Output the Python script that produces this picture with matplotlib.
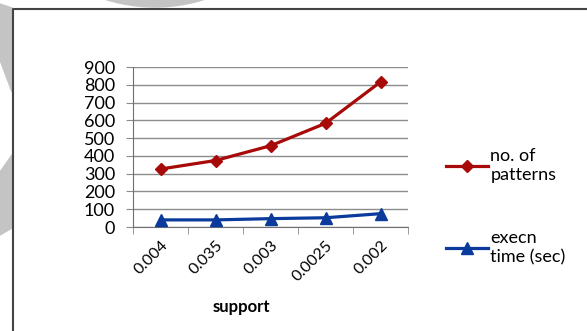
#!/usr/bin/env python3
"""Line chart: number of patterns and execution time against support."""

import matplotlib
matplotlib.use("Agg")
import matplotlib.pyplot as plt
from matplotlib.patches import Polygon, Ellipse

support = ["0.004", "0.035", "0.003", "0.0025", "0.002"]
patterns = [326, 374, 457, 583, 816]
exec_time = [40, 40, 47, 52, 75]

RED = "#A80A0A"
BLUE = "#0A3A9C"
GRID = "#8C8C8C"

plt.rcParams["font.family"] = ["Lato", "DejaVu Sans"]

fig = plt.figure(figsize=(5.87, 3.31), dpi=100)

# page decorations around the chart frame
W, H = 587, 331
fig.patches.append(Ellipse((155 / W, 1 - (7 - 165) / H), 330 / W, 330 / H,
                           transform=fig.transFigure, color="#C4C4C4",
                           zorder=0))
fig.patches.append(Polygon([(0, 1 - 4 / H), (12 / W, 1 - 8 / H),
                            (12 / W, 1 - 92 / H), (0, 1 - 60 / H)],
                           closed=True, transform=fig.transFigure,
                           color="#C4C4C4", zorder=0))
fig.patches.append(Polygon([(12 / W, 1 - 155 / H), (12 / W, 1 - 228 / H),
                            (0, 1 - 235 / H), (0, 1 - 172 / H)],
                           closed=True, transform=fig.transFigure,
                           color="#C4C4C4", zorder=0))
# chart frame
fig.add_artist(plt.Line2D([12.5 / W, 12.5 / W, 1], [0, 1 - 8.5 / H, 1 - 8.5 / H],
                          transform=fig.transFigure, color="#444444", lw=1.5))

ax = fig.add_axes([133 / W, 1 - 227 / H, 275 / W, 160 / H])
x = range(len(support))
ax.plot(x, patterns, color=RED, lw=2.3, marker="D", ms=6.5,
        label="no. of\npatterns", zorder=3)
ax.plot(x, exec_time, color=BLUE, lw=2.3, marker="^", ms=8,
        label="execn\ntime (sec)", zorder=3)

ax.set_xlim(-0.5, len(support) - 0.5)
ax.set_ylim(0, 900)
ax.set_yticks(range(0, 901, 100))
ax.tick_params(axis="y", labelsize=13, length=5, color=GRID, pad=8)
ax.yaxis.grid(True, color=GRID, lw=1)
ax.set_axisbelow(True)

ax.set_xticks(list(x))
ax.set_xticklabels(support, rotation=45, ha="right", rotation_mode="anchor",
                   fontsize=11.5)
ax.set_xticks([i - 0.5 for i in range(len(support) + 1)], minor=True)
ax.tick_params(axis="x", which="major", length=0, pad=8)
ax.tick_params(axis="x", which="minor", length=5, color=GRID)

for s in ["top", "right"]:
    ax.spines[s].set_visible(False)
ax.spines["left"].set_color("#707070")
ax.spines["bottom"].set_color("#707070")

ax.set_xlabel("support", fontsize=12, fontweight="bold")
ax.xaxis.set_label_coords((241 - 133) / 275, -(307 - 227) / 160)
ax.xaxis.label.set_va("center")

ax.legend(loc="upper left", bbox_to_anchor=(1.08, 0.595), frameon=False,
          fontsize=13, handlelength=2.3, handletextpad=0.15,
          labelspacing=2.65)

fig.savefig("out.png", dpi=100)
